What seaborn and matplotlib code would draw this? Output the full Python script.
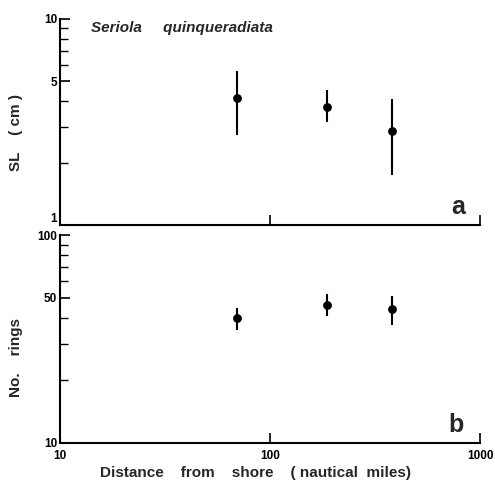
import numpy as np
import pandas as pd
import matplotlib
matplotlib.use("Agg")
import matplotlib.pyplot as plt
import seaborn as sns

# Distance from shore (nautical miles) of the three sampling stations
distance = [70, 186, 381]

# Panel a: standard length (cm), mean and range
sl_mean = [4.14, 3.74, 2.86]
sl_low = [2.73, 3.16, 1.75]
sl_high = [5.6, 4.52, 4.08]

# Panel b: number of otolith rings, mean and range
rings_mean = [39.8, 46.1, 43.9]
rings_low = [34.9, 40.8, 36.9]
rings_high = [44.4, 52.0, 50.9]

sns.set_style("ticks")
plt.rcParams['font.family'] = ['Liberation Sans', 'DejaVu Sans']
plt.rcParams['font.weight'] = 'bold'

fig = plt.figure(figsize=(4.95, 4.8), dpi=100)
ax_a = fig.add_axes([0.1212, 0.53125, 0.8485, 0.4292])
ax_b = fig.add_axes([0.1212, 0.0771, 0.8485, 0.4333])

df_a = pd.DataFrame({'x': distance, 'y': sl_mean, 'lo': sl_low, 'hi': sl_high})
df_b = pd.DataFrame({'x': distance, 'y': rings_mean, 'lo': rings_low, 'hi': rings_high})

for ax, df, ylim, yticks in [(ax_a, df_a, (1, 10), [1, 5, 10]),
                             (ax_b, df_b, (10, 100), [10, 50, 100])]:
    ax.set_xscale('log')
    ax.set_yscale('log')
    ax.vlines(df['x'], df['lo'], df['hi'], color='black', linewidth=1.5)
    sns.scatterplot(data=df, x='x', y='y', ax=ax, color='black', s=40,
                    edgecolor='black', linewidth=0, zorder=3)
    ax.set_xlim(10, 1000)
    ax.set_ylim(*ylim)
    ax.set_yticks(yticks)
    ax.set_yticklabels([str(t) for t in yticks], fontsize=8.5, fontweight='bold')
    ax.set_xticks([10, 100, 1000])
    ax.xaxis.set_minor_locator(matplotlib.ticker.NullLocator())
    ax.tick_params(axis='both', which='major', direction='in', length=7,
                   width=1.2, pad=2, colors='black')
    ax.tick_params(axis='x', which='major', pad=5)
    ax.tick_params(axis='y', which='minor', direction='in', length=6,
                   width=1.0, colors='black')
    ax.yaxis.set_minor_formatter(matplotlib.ticker.NullFormatter())
    for side in ['top', 'right']:
        ax.spines[side].set_visible(False)
    for side in ['left', 'bottom']:
        ax.spines[side].set_linewidth(1.5)
        ax.spines[side].set_color('black')
    ax.set_xlabel('')

ax_a.set_xticklabels([])
ax_b.set_xticklabels(['10', '100', '1000'], fontsize=8.5, fontweight='bold')

# the "1" of panel a sits just above the panel's bottom edge
ax_a.get_yticklabels()[0].set_va('bottom')

ax_a.set_ylabel('SL    ( cm )', fontsize=11, fontweight='bold')
ax_a.yaxis.set_label_coords(-0.088, 0.45)
ax_b.set_ylabel('No.    rings', fontsize=11, fontweight='bold')
ax_b.yaxis.set_label_coords(-0.088, 0.41)
ax_b.set_xlabel('Distance    from    shore    ( nautical  miles)',
                fontsize=11, fontweight='bold')
ax_b.xaxis.set_label_coords(0.465, -0.11)

ax_a.text(0.075, 0.955, 'Seriola     quinqueradiata', transform=ax_a.transAxes,
          fontsize=11, fontweight='bold', style='italic', va='center', ha='left')
ax_a.text(0.965, 0.03, 'a', transform=ax_a.transAxes, fontsize=18,
          fontweight='bold', ha='right', va='bottom')
ax_b.text(0.96, 0.03, 'b', transform=ax_b.transAxes, fontsize=18,
          fontweight='bold', ha='right', va='bottom')

fig.savefig('out.png', dpi=100)
